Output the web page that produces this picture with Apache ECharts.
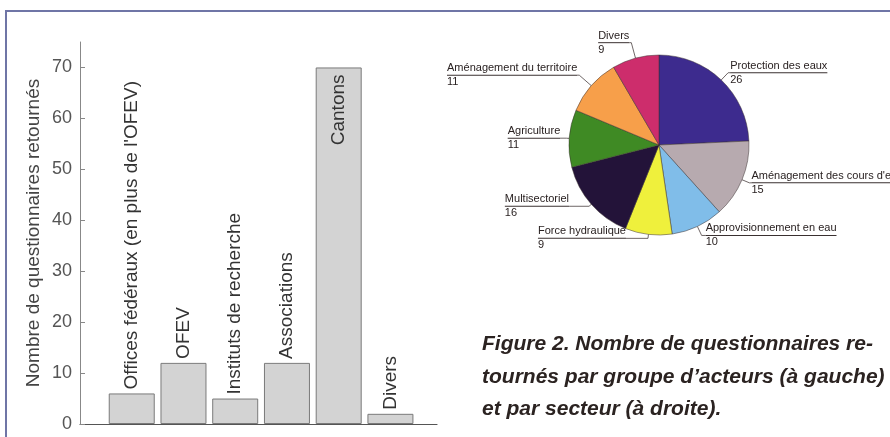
<!DOCTYPE html>
<html>
<head>
<meta charset="utf-8">
<script src="https://cdn.jsdelivr.net/npm/echarts@6/dist/echarts.min.js"></script>
<style>
html,body{margin:0;padding:0;background:#fff;}
#main{width:890px;height:437px;}
</style>
</head>
<body>
<div id="main"></div>
<script>
// ---- data ----
const barCategories = ["Offices fédéraux (en plus de l'OFEV)", 'OFEV', 'Instituts de recherche', 'Associations', 'Cantons', 'Divers'];
const barValues = [6, 12, 5, 12, 70, 2];
const yTicks = [0, 10, 20, 30, 40, 50, 60, 70];
const yAxisTitle = 'Nombre de questionnaires retournés';

const pieSectors = ['Protection des eaux', "Aménagement des cours d'eau", 'Approvisionnement en eau', 'Force hydraulique', 'Multisectoriel', 'Agriculture', 'Aménagement du territoire', 'Divers'];
const pieValues = [26, 15, 10, 9, 16, 11, 11, 9];

const captionText = 'Figure 2. Nombre de questionnaires re-\ntournés par groupe d\u2019acteurs (à gauche)\net par secteur (à droite).';

// ---- styles ----
const pieColors = ['#3d2b8e', '#b7aaaf', '#80bde9', '#eff03c', '#231339', '#3f8a24', '#f79f4a', '#cd2d6c'];
const pieLeader = [[10, 2], [8, 2], [10, 4], [4, 22], [3, 20], [3, 6], [16, 2], [16, 2]];
const FONT = 'Liberation Sans, Arial, sans-serif';

const chart = echarts.init(document.getElementById('main'));

const barData = barValues.map((v, i) => {
  const d = { value: [i, v], name: barCategories[i] };
  if (v === Math.max.apply(null, barValues)) {
    d.label = { position: 'insideTop', align: 'right', distance: 7 };
  }
  return d;
});

const pieData = pieValues.map((v, i) => ({
  value: v,
  name: pieSectors[i],
  itemStyle: { color: pieColors[i] },
  labelLine: { length: pieLeader[i][0], length2: pieLeader[i][1] }
}));

chart.setOption({
  animation: false,
  backgroundColor: '#ffffff',
  title: {
    text: captionText,
    left: 477,
    top: 323,
    textStyle: {
      fontFamily: FONT,
      fontStyle: 'italic',
      fontWeight: 'bold',
      fontSize: 21,
      lineHeight: 32.5,
      color: '#2b2321'
    }
  },
  graphic: [{
    type: 'rect',
    shape: { x: 6, y: 11, width: 1000, height: 1000 },
    style: { fill: 'none', stroke: '#6f75a6', lineWidth: 2 },
    silent: true,
    z: 100
  }],
  grid: { left: 80, top: 42, width: 357, bottom: 13 },
  xAxis: {
    type: 'value',
    min: -1,
    max: 5.9,
    axisLine: { show: true, onZero: false, lineStyle: { color: '#555', width: 1.2 } },
    axisTick: { show: false },
    axisLabel: { show: false },
    splitLine: { show: false }
  },
  yAxis: {
    type: 'value',
    min: 0,
    max: 75,
    name: yAxisTitle,
    nameLocation: 'middle',
    nameRotate: 90,
    nameGap: 37,
    nameTextStyle: { fontFamily: FONT, fontSize: 19, color: '#444' },
    axisLine: { show: true, onZero: false, lineStyle: { color: '#888', width: 1 } },
    axisTick: { show: true, inside: true, length: 5, customValues: yTicks, lineStyle: { color: '#888' } },
    axisLabel: { customValues: yTicks, fontFamily: FONT, fontSize: 18, color: '#555', margin: 8 },
    splitLine: { show: false }
  },
  series: [{
    type: 'bar',
    data: barData,
    barWidth: 46,
    itemStyle: { color: '#d3d3d3', borderColor: '#7a7a7a', borderWidth: 1 },
    label: {
      show: true,
      formatter: '{b}',
      position: 'top',
      rotate: 90,
      align: 'left',
      verticalAlign: 'middle',
      distance: 4,
      fontFamily: FONT,
      fontSize: 19,
      color: '#333'
    }
  }, {
    type: 'pie',
    left: 0, top: 0, width: 1400, height: 437,
    center: [659, 145],
    radius: 90,
    startAngle: 90,
    clockwise: true,
    avoidLabelOverlap: false,
    data: pieData,
    itemStyle: { borderColor: '#3a3030', borderWidth: 0.5 },
    label: {
      show: true,
      alignTo: 'none',
      distanceToLabelLine: 0,
      formatter: p => '{t|' + p.name + '}\n{u| }\n{n|' + p.value + '}',
      rich: {
        t: { fontFamily: FONT, fontSize: 11, color: '#2a2222', lineHeight: 13, align: 'left' },
        u: { width: '100%', height: 1, lineHeight: 1, fontSize: 1, backgroundColor: '#3a3030', align: 'left' },
        n: { fontFamily: FONT, fontSize: 11, color: '#2a2222', lineHeight: 13, align: 'left' }
      }
    },
    labelLine: { show: true, lineStyle: { color: '#4a4040', width: 0.8 } }
  }]
});
</script>
</body>
</html>
